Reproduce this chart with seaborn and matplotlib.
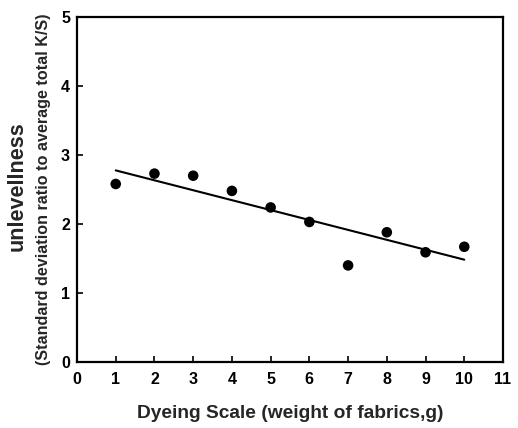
import numpy as np
import pandas as pd
import matplotlib
matplotlib.use("Agg")
import matplotlib.pyplot as plt
import seaborn as sns

# values
scale_g = [1, 2, 3, 4, 5, 6, 7, 8, 9, 10]
unlevelness = [2.58, 2.73, 2.70, 2.48, 2.24, 2.03, 1.40, 1.88, 1.59, 1.67]
x_ticks = list(range(0, 12))
y_ticks = list(range(0, 6))

df = pd.DataFrame({'scale': scale_g, 'unlevel': unlevelness})

sns.set_style("ticks")
plt.rcParams['font.family'] = ['Liberation Sans', 'DejaVu Sans']
plt.rcParams['font.weight'] = 'bold'

fig = plt.figure(figsize=(5.18, 4.28), dpi=100)
ax = fig.add_axes([77/518, 1 - 362/428, (503-77)/518, (362-17)/428])

sns.regplot(data=df, x='scale', y='unlevel', ci=None, ax=ax,
            scatter_kws={'s': 58, 'color': 'black', 'edgecolor': 'none', 'alpha': 1},
            line_kws={'color': 'black', 'lw': 1.5})

ax.set_xlim(0, 11)
ax.set_ylim(0, 5)
ax.set_xticks(x_ticks)
ax.set_yticks(y_ticks)
ax.tick_params(direction='in', length=4, width=1.2, labelsize=11.5, colors='black')
ax.tick_params(axis='x', pad=7)
ax.tick_params(axis='y', pad=5)
for lab in ax.get_xticklabels() + ax.get_yticklabels():
    lab.set_fontweight('bold')
for sp in ax.spines.values():
    sp.set_linewidth(1.6)
    sp.set_color('black')

ax.set_xlabel('Dyeing Scale (weight of fabrics,g)', fontsize=13.8, fontweight='bold', labelpad=13)
ax.set_ylabel('(Standard deviation ratio to average total K/S)', fontsize=11.6, fontweight='bold', labelpad=7)
fig.text(17/518, 1 - 186/428, 'unlevellness', rotation=90, fontsize=15.5, fontweight='bold',
         ha='center', va='center')

fig.savefig('out.png', dpi=100)
